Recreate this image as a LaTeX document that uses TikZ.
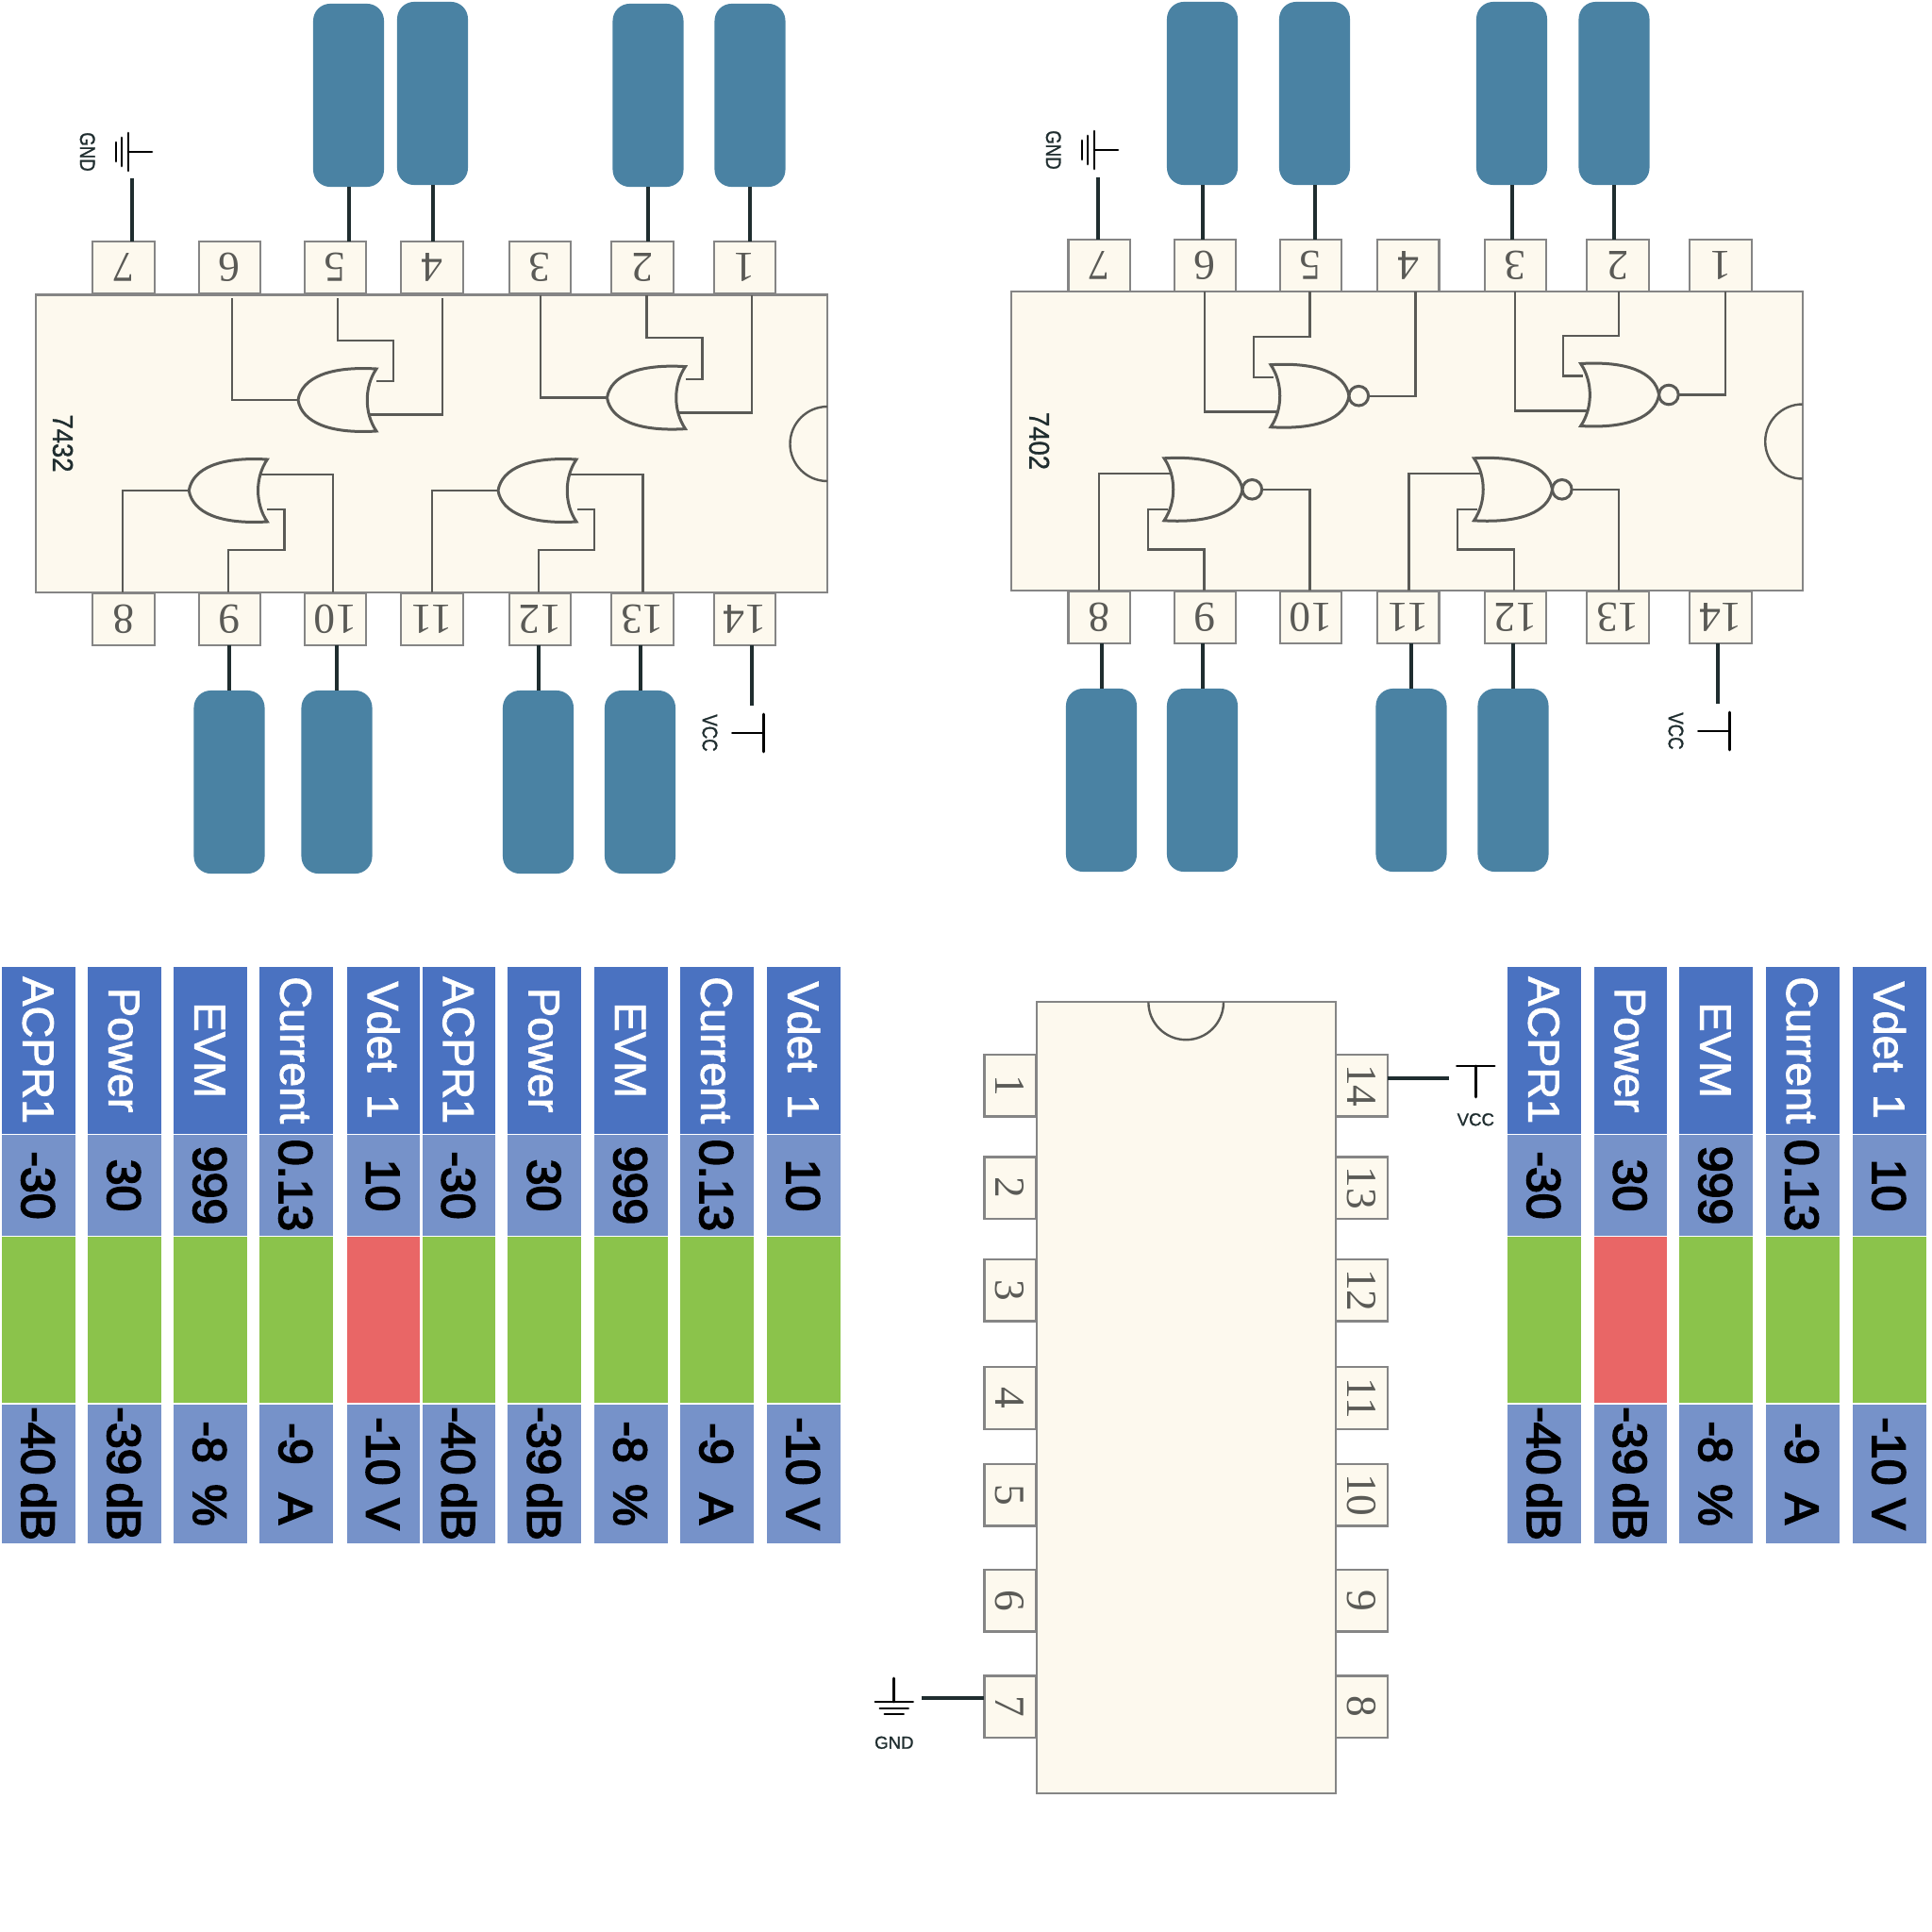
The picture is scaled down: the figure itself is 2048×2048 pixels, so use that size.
\documentclass[tikz,border=0pt]{standalone}
\usepackage{fontspec}
\usetikzlibrary{calc}
\newfontfamily\tablefont[FakeBold=1.2]{Liberation Sans}
\newfontfamily\headfont[FakeBold=2]{Liberation Sans}
\newfontfamily\valfont[FakeBold=3.5]{Liberation Sans}
\newfontfamily\pinfont{Liberation Serif}
\definecolor{chipfill}{HTML}{FDF9EE}
\definecolor{chipline}{HTML}{858585}
\definecolor{gateline}{HTML}{5A5A56}
\definecolor{padblue}{HTML}{4A82A3}
\definecolor{leadblack}{HTML}{1F2D2F}
\definecolor{headblue}{HTML}{4A72C1}
\definecolor{valblue}{HTML}{7692C9}
\definecolor{okgreen}{HTML}{8BC34B}
\definecolor{badred}{HTML}{E96666}

\tikzset{
	chip/.style={draw=chipline, fill=chipfill, line width=0.022cm, inner sep=0pt, outer sep=0pt},
	pinbox/.style={draw=chipline, fill=chipfill, line width=0.022cm, inner sep=0pt, outer sep=0pt,
		minimum width=0.655cm, minimum height=0.55cm, text=gateline, text height=8.7pt, text depth=0pt,
		font=\pinfont\fontsize{12.9}{15}\selectfont},
	padbox/.style={fill=padblue, rounded corners=0.18cm, inner sep=0pt, outer sep=0pt,
		minimum width=0.75cm, minimum height=1.94cm},
	wire/.style={draw=gateline, line width=0.024cm},
	gatebody/.style={draw=gateline, line width=0.03cm, fill=chipfill},
	lead/.style={draw=leadblack, line width=0.04cm},
	railline/.style={draw=black, line width=0.027cm, line cap=round},
	railtext/.style={text=leadblack, inner sep=0pt, transform shape, text height=3.8pt, text depth=0pt,
		font=\tablefont\fontsize{5.3}{6}\selectfont},
	chipname/.style={text=leadblack, inner sep=0pt, rotate=-90, yscale=1.1, text height=5.6pt, text depth=0pt,
		font=\tablefont\fontsize{7.8}{9}\selectfont},
	cell/.style={anchor=west, rotate=-90, draw=white, line width=0.012cm, inner sep=0pt, outer sep=0pt,
		minimum height=0.79cm},
	headcell/.style={cell, fill=headblue, text=white, minimum width=1.783cm, text height=9.5pt, text depth=0pt,
		font=\headfont\fontsize{13.3}{15}\selectfont},
	valcell/.style={cell, fill=valblue, text=black, minimum width=1.082cm, text height=10.2pt, text depth=0pt,
		font=\valfont\fontsize{14.2}{16}\selectfont},
	statuscell/.style={cell, minimum width=1.772cm},
	lowcell/.style={valcell, minimum width=1.481cm},
	orgate/.pic={
		\draw[gatebody] (0,0) .. controls (4,-24) and (34,-36) .. (83,-33)
			.. controls (70,-14) and (70,14) .. (83,33)
			.. controls (34,36) and (4,24) .. (0,0);
		\coordinate (-tip) at (0,0);
	},
	norgate/.pic={
		\draw[gatebody] (0,0) .. controls (-4,-24) and (-34,-36) .. (-83,-33)
			.. controls (-70,-14) and (-70,14) .. (-83,33)
			.. controls (-34,36) and (-4,24) .. (0,0);
		\draw[gatebody] (10.3,0) circle (10.3);
		\coordinate (-out) at (20.6,0);
	},
	gndsym/.pic={
		\draw[railline] (0,-25) -- (0,0);
		\draw[railline] (-20,0) -- (20,0);
		\draw[railline] (-15,7) -- (15,7);
		\draw[railline] (-10,13) -- (10,13);
		\node[railtext, yscale=#1] (-name) at (0,43) {GND};
	},
	vccsym/.pic={
		\draw[railline] (0,33) -- (0,0);
		\draw[railline] (-20,0) -- (20,0);
		\node[railtext, yscale=#1] (-name) at (0,56.5) {VCC};
	},
}

% one column of a table: name, x, head, value, colour, low limit
\newcommand{\metric}[6]{
	\node[headcell] (#1h) at (#2,1024) {#3};
	\node[valcell] (#1v) at (#1h.east) {#4};
	\node[statuscell, fill=#5] (#1s) at (#1v.east) {};
	\node[lowcell] (#1l) at (#1s.east) {#6};
}

\begin{document}
\begin{tikzpicture}[x=0.01cm, y=-0.01cm]
	\useasboundingbox (0,0) rectangle (2048,2048);

	% 7432
	\node[chip, minimum width=8.39cm, minimum height=3.155cm] (chipa) at (457.5,470.25) {};
	\draw[wire] (877,431) arc[start angle=270, end angle=90, radius=39.5];
	\node[chipname] (namea) at (67,470) {7432};
	\node[pinbox, rotate=180] (pa7) at (131,283.7) {7};
	\node[pinbox, rotate=180] (pa6) at (243.5,283.7) {6};
	\node[pinbox, rotate=180] (pa5) at (355.5,283.7) {5};
	\node[pinbox, rotate=180] (pa4) at (458,283.7) {4};
	\node[pinbox, rotate=180] (pa3) at (572.5,283.7) {3};
	\node[pinbox, rotate=180] (pa2) at (681,283.7) {2};
	\node[pinbox, rotate=180] (pa1) at (789.5,283.7) {1};
	\node[pinbox, rotate=180] (pa8) at (131,656.5) {8};
	\node[pinbox, rotate=180] (pa9) at (243.5,656.5) {9};
	\node[pinbox, rotate=180] (pa10) at (355.5,656.5) {10};
	\node[pinbox, rotate=180] (pa11) at (458,656.5) {11};
	\node[pinbox, rotate=180] (pa12) at (572.5,656.5) {12};
	\node[pinbox, rotate=180] (pa13) at (681,656.5) {13};
	\node[pinbox, rotate=180] (pa14) at (789.5,656.5) {14};

	\node[padbox] (ba5) at (369.5,101) {};
	\node[padbox] (ba4) at (458.5,99) {};
	\node[padbox] (ba2) at (687,101) {};
	\node[padbox] (ba1) at (795,101) {};
	\node[padbox] (ba9) at (243,829) {};
	\node[padbox] (ba10) at (357,829) {};
	\node[padbox] (ba12) at (570.5,829) {};
	\node[padbox] (ba13) at (678.5,829) {};

	\draw[lead] (ba5.south) -- (ba5.south |- pa5.south);
	\draw[lead] (ba4.south) -- (ba4.south |- pa4.south);
	\draw[lead] (ba2.south) -- (ba2.south |- pa2.south);
	\draw[lead] (ba1.south) -- (ba1.south |- pa1.south);
	\draw[lead] (ba9.north) -- (ba9.north |- pa9.north);
	\draw[lead] (ba10.north) -- (ba10.north |- pa10.north);
	\draw[lead] (ba12.north) -- (ba12.north |- pa12.north);
	\draw[lead] (ba13.north) -- (ba13.north |- pa13.north);

	\pic[rotate=-90] (gnda) at (136,161) {gndsym=1.2};
	\coordinate (ga7) at (140,189);
	\draw[lead] (ga7) -- (ga7 |- pa7.south);
	\pic[rotate=-90] (vcca) at (809.3,777) {vccsym=1.2};
	\coordinate (va14) at (797,748);
	\draw[lead] (va14) -- (va14 |- pa14.north);

	\coordinate (wa6) at (246,316);
	\coordinate (wa5) at (358,316);
	\coordinate (wa4) at (469,316);
	\coordinate (wa3) at (573,312.5);
	\coordinate (wa2) at (685.4,312.5);
	\coordinate (wa1) at (796.8,312.5);
	\coordinate (wa8) at (130,628);
	\coordinate (wa9) at (241.7,628);
	\coordinate (wa10) at (353,628);
	\coordinate (wa11) at (458,628);
	\coordinate (wa12) at (571,628);
	\coordinate (wa13) at (681.4,628);

	\draw[wire] (wa5) |- (417,361) |- (399,404);
	\draw[wire] (wa4) |- (390,439.5);
	\draw[wire] (wa2) |- (744.5,358) |- (727,402);
	\draw[wire] (wa1) |- (717,437.6);
	\draw[wire] (wa9) |- (301.4,583) |- (283,540);
	\draw[wire] (wa10) |- (272,503);
	\draw[wire] (wa12) |- (630,583) |- (612,540);
	\draw[wire] (wa13) |- (600,503);

	\pic (gatea) at (316,424) {orgate};
	\pic (gateb) at (643.5,421.6) {orgate};
	\pic[yscale=-1] (gatec) at (200.3,520) {orgate};
	\pic[yscale=-1] (gated) at (528,520) {orgate};

	\draw[wire] (wa6) |- (gatea-tip);
	\draw[wire] (wa3) |- (gateb-tip);
	\draw[wire] (wa8) |- (gatec-tip);
	\draw[wire] (wa11) |- (gated-tip);

	% 7402
	\node[chip, minimum width=8.38cm, minimum height=3.166cm] (chipb) at (1491.6,467.7) {};
	\draw[wire] (1910.7,428.5) arc[start angle=270, end angle=90, radius=39.5];
	\node[chipname] (nameb) at (1102,467.5) {7402};
	\node[pinbox, rotate=180] (pb7) at (1165.3,281.3) {7};
	\node[pinbox, rotate=180] (pb6) at (1277.5,281.3) {6};
	\node[pinbox, rotate=180] (pb5) at (1389.5,281.3) {5};
	\node[pinbox, rotate=180] (pb4) at (1492.8,281.3) {4};
	\node[pinbox, rotate=180] (pb3) at (1606.5,281.3) {3};
	\node[pinbox, rotate=180] (pb2) at (1715,281.3) {2};
	\node[pinbox, rotate=180] (pb1) at (1824,281.3) {1};
	\node[pinbox, rotate=180] (pb8) at (1165.3,654.4) {8};
	\node[pinbox, rotate=180] (pb9) at (1277.5,654.4) {9};
	\node[pinbox, rotate=180] (pb10) at (1389.5,654.4) {10};
	\node[pinbox, rotate=180] (pb11) at (1492.8,654.4) {11};
	\node[pinbox, rotate=180] (pb12) at (1606.5,654.4) {12};
	\node[pinbox, rotate=180] (pb13) at (1715,654.4) {13};
	\node[pinbox, rotate=180] (pb14) at (1824,654.4) {14};

	\node[padbox] (bb6) at (1274.5,99) {};
	\node[padbox] (bb5) at (1393.5,99) {};
	\node[padbox] (bb3) at (1602.5,99) {};
	\node[padbox] (bb2) at (1711,99) {};
	\node[padbox] (bb8) at (1167.5,827) {};
	\node[padbox] (bb9) at (1274.5,827) {};
	\node[padbox] (bb11) at (1496,827) {};
	\node[padbox] (bb12) at (1604,827) {};

	\draw[lead] (bb6.south) -- (bb6.south |- pb6.south);
	\draw[lead] (bb5.south) -- (bb5.south |- pb5.south);
	\draw[lead] (bb3.south) -- (bb3.south |- pb3.south);
	\draw[lead] (bb2.south) -- (bb2.south |- pb2.south);
	\draw[lead] (bb8.north) -- (bb8.north |- pb8.north);
	\draw[lead] (bb9.north) -- (bb9.north |- pb9.north);
	\draw[lead] (bb11.north) -- (bb11.north |- pb11.north);
	\draw[lead] (bb12.north) -- (bb12.north |- pb12.north);

	\pic[rotate=-90] (gndb) at (1160,159) {gndsym=1.2};
	\coordinate (gb7) at (1164,188);
	\draw[lead] (gb7) -- (gb7 |- pb7.south);
	\pic[rotate=-90] (vccb) at (1833.3,775) {vccsym=1.2};
	\coordinate (vb14) at (1821,746.3);
	\draw[lead] (vb14) -- (vb14 |- pb14.north);

	\coordinate (wb6) at (1277,309.4);
	\coordinate (wb5) at (1388.4,309.4);
	\coordinate (wb4) at (1500.3,309.4);
	\coordinate (wb3) at (1606,309.4);
	\coordinate (wb2) at (1716,309.4);
	\coordinate (wb1) at (1829,309.4);
	\coordinate (wb8) at (1165,626);
	\coordinate (wb9) at (1276.4,626);
	\coordinate (wb10) at (1388.4,626);
	\coordinate (wb11) at (1493.4,626);
	\coordinate (wb12) at (1604.8,626);
	\coordinate (wb13) at (1716,626);

	\draw[wire] (wb6) |- (1358,436.5);
	\draw[wire] (wb5) |- (1329,357) |- (1350,399.8);
	\draw[wire] (wb3) |- (1686,435.3);
	\draw[wire] (wb2) |- (1657,356) |- (1678,398.6);
	\draw[wire] (wb8) |- (1245,502);
	\draw[wire] (wb9) |- (1216.7,582.3) |- (1238,540);
	\draw[wire] (wb11) |- (1573,502);
	\draw[wire] (wb12) |- (1545,582.3) |- (1566,540);

	\pic (gatee) at (1430,419.7) {norgate};
	\pic (gatef) at (1758.6,418.5) {norgate};
	\pic[yscale=-1] (gateg) at (1317,518.8) {norgate};
	\pic[yscale=-1] (gateh) at (1645.5,518.8) {norgate};

	\draw[wire] (wb4) |- (gatee-out);
	\draw[wire] (wb1) |- (gatef-out);
	\draw[wire] (wb10) |- (gateg-out);
	\draw[wire] (wb13) |- (gateh-out);

	% pinout
	\node[chip, minimum width=3.166cm, minimum height=8.381cm] (chipc) at (1257.3,1481.45) {};
	\draw[wire] (1217.4,1062.4) arc[start angle=180, end angle=0, radius=39.8];
	\node[pinbox, rotate=-90] (pc1) at (1071,1150.8) {1};
	\node[pinbox, rotate=-90] (pc2) at (1071,1259.3) {2};
	\node[pinbox, rotate=-90] (pc3) at (1071,1367.8) {3};
	\node[pinbox, rotate=-90] (pc4) at (1071,1482) {4};
	\node[pinbox, rotate=-90] (pc5) at (1071,1584.7) {5};
	\node[pinbox, rotate=-90] (pc6) at (1071,1696.7) {6};
	\node[pinbox, rotate=-90] (pc7) at (1071,1809.3) {7};
	\node[pinbox, rotate=-90] (pc14) at (1443.3,1150.8) {14};
	\node[pinbox, rotate=-90] (pc13) at (1443.3,1259.3) {13};
	\node[pinbox, rotate=-90] (pc12) at (1443.3,1367.8) {12};
	\node[pinbox, rotate=-90] (pc11) at (1443.3,1482) {11};
	\node[pinbox, rotate=-90] (pc10) at (1443.3,1584.7) {10};
	\node[pinbox, rotate=-90] (pc9) at (1443.3,1696.7) {9};
	\node[pinbox, rotate=-90] (pc8) at (1443.3,1809.3) {8};

	\pic (gndc) at (947.8,1804) {gndsym=1};
	\coordinate (gc7) at (976.8,1799.5);
	\draw[lead] (gc7) -- (gc7 -| pc7.south);
	\pic (vccc) at (1564.3,1130) {vccsym=1};
	\coordinate (vc14) at (1535.7,1142.8);
	\draw[lead] (vc14) -- (vc14 -| pc14.north);

	% tables
	\metric{ta}{41}{ACPR1}{-30}{okgreen}{-40\,dB}
	\metric{tb}{132}{Power}{30}{okgreen}{-39\,dB}
	\metric{tc}{223}{EVM}{999}{okgreen}{-8\hspace{.45em}\%}
	\metric{td}{314}{Current}{0.13}{okgreen}{-9\hspace{.6em}A}
	\metric{te}{406.5}{Vdet\hspace{.5em}1}{10}{badred}{-10 V}
	\metric{tf}{486.5}{ACPR1}{-30}{okgreen}{-40\,dB}
	\metric{tg}{577.3}{Power}{30}{okgreen}{-39\,dB}
	\metric{th}{668.8}{EVM}{999}{okgreen}{-8\hspace{.45em}\%}
	\metric{ti}{760}{Current}{0.13}{okgreen}{-9\hspace{.6em}A}
	\metric{tj}{852}{Vdet\hspace{.5em}1}{10}{okgreen}{-10 V}
	\metric{tk}{1637}{ACPR1}{-30}{okgreen}{-40\,dB}
	\metric{tl}{1728.5}{Power}{30}{badred}{-39\,dB}
	\metric{tm}{1819}{EVM}{999}{okgreen}{-8\hspace{.45em}\%}
	\metric{tn}{1910.7}{Current}{0.13}{okgreen}{-9\hspace{.6em}A}
	\metric{to}{2003}{Vdet\hspace{.5em}1}{10}{okgreen}{-10 V}
\end{tikzpicture}
\end{document}
